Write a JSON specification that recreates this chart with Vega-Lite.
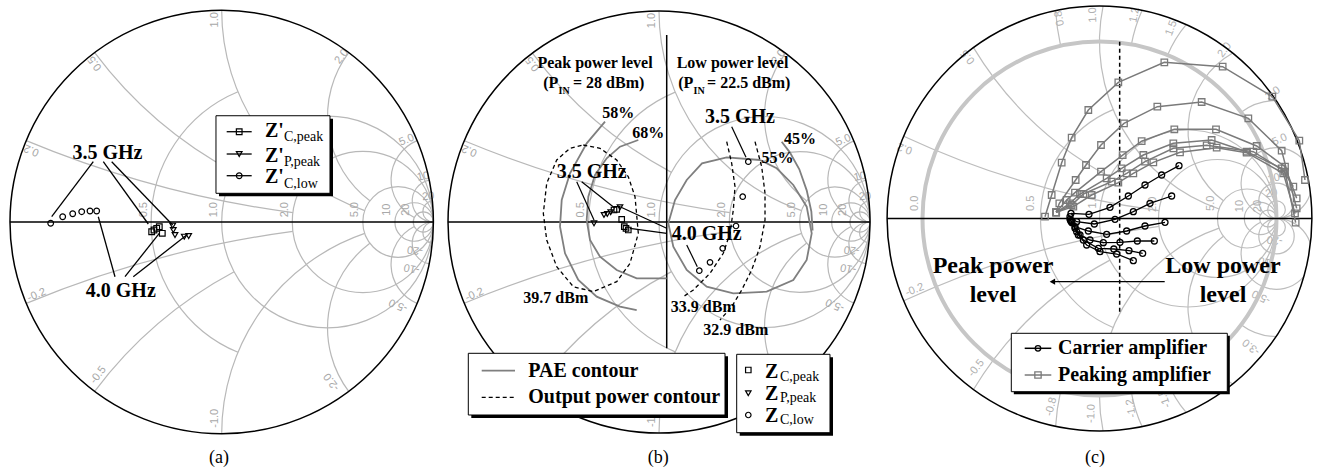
{
"$schema": "https://vega.github.io/schema/vega-lite/v6.json",
"padding": 0,
"spacing": 0,
"background": "#ffffff",
"config": {"view": {"stroke": null}, "text": {"font": "Liberation Serif"}},
"resolve": {"scale": {"x": "independent", "y": "independent", "radius": "independent", "theta": "independent", "shape": "independent"}},
"datasets": {
"gridAB": [
{"x":0.3333,"y":0,"rad":0.6667,"t0":-157.38,"t1":-22.62},
{"x":0.5,"y":0,"rad":0.5,"t0":0,"t1":360},
{"x":0.6667,"y":0,"rad":0.3333,"t0":0,"t1":360},
{"x":0.8333,"y":0,"rad":0.1667,"t0":0,"t1":360},
{"x":0.9091,"y":0,"rad":0.0909,"t0":0,"t1":360},
{"x":0.9524,"y":0,"rad":0.0476,"t0":0,"t1":360},
{"x":1,"y":5,"rad":5,"t0":187.63,"t1":202.62},
{"x":1,"y":2,"rad":2,"t0":208.07,"t1":233.13},
{"x":1,"y":1,"rad":1,"t0":198.92,"t1":270},
{"x":1,"y":0.5,"rad":0.5,"t0":216.87,"t1":306.87},
{"x":1,"y":0.2,"rad":0.2,"t0":206.77,"t1":337.38},
{"x":1,"y":0.1,"rad":0.1,"t0":180,"t1":348.58},
{"x":1,"y":0.05,"rad":0.05,"t0":180,"t1":354.28},
{"x":1,"y":-5,"rad":5,"t0":-22.62,"t1":-7.63},
{"x":1,"y":-2,"rad":2,"t0":-53.13,"t1":-28.07},
{"x":1,"y":-1,"rad":1,"t0":-90,"t1":-18.92},
{"x":1,"y":-0.5,"rad":0.5,"t0":-126.87,"t1":-36.87},
{"x":1,"y":-0.2,"rad":0.2,"t0":-157.38,"t1":-26.77},
{"x":1,"y":-0.1,"rad":0.1,"t0":-168.58,"t1":0},
{"x":1,"y":-0.05,"rad":0.05,"t0":-174.28,"t1":0}
],
"labAB": [
{"x":-0.368,"y":0.058,"t":"0.5","ang":-90},
{"x":-0.035,"y":0.058,"t":"1.0","ang":-90},
{"x":0.298,"y":0.058,"t":"2.0","ang":-90},
{"x":0.632,"y":0.058,"t":"5.0","ang":-90},
{"x":0.783,"y":0.058,"t":"10","ang":-90},
{"x":0.872,"y":0.058,"t":"20","ang":-90},
{"x":-0.898,"y":0.34,"t":"0.2","ang":-157.4},
{"x":-0.598,"y":0.75,"t":"0.5","ang":-126.9},
{"x":-0.032,"y":0.955,"t":"1.0","ang":-90},
{"x":0.567,"y":0.781,"t":"2.0","ang":-53.1},
{"x":0.874,"y":0.387,"t":"5.0","ang":-22.6},
{"x":0.952,"y":0.214,"t":"10","ang":-11.4},
{"x":0.976,"y":0.12,"t":"20","ang":-5.7},
{"x":-0.874,"y":-0.345,"t":"-0.2","ang":-22.6},
{"x":-0.583,"y":-0.723,"t":"-0.5","ang":-53.1},
{"x":-0.032,"y":-0.927,"t":"-1.0","ang":-90},
{"x":0.52,"y":-0.754,"t":"-2.0","ang":-126.9},
{"x":0.834,"y":-0.392,"t":"-5.0","ang":-157.4},
{"x":0.897,"y":-0.219,"t":"-10","ang":-168.6},
{"x":0.913,"y":-0.132,"t":"-20","ang":-174.3}
],
"gridC": [
{"x":0.3333,"y":0,"rad":0.6667,"t0":-157.38,"t1":-22.62},
{"x":0.5,"y":0,"rad":0.5,"t0":0,"t1":360},
{"x":0.6667,"y":0,"rad":0.3333,"t0":0,"t1":360},
{"x":0.8333,"y":0,"rad":0.1667,"t0":0,"t1":360},
{"x":0.9091,"y":0,"rad":0.0909,"t0":0,"t1":360},
{"x":0.9524,"y":0,"rad":0.0476,"t0":0,"t1":360},
{"x":1,"y":5,"rad":5,"t0":187.63,"t1":204.91},
{"x":1,"y":2,"rad":2,"t0":208.07,"t1":238.86},
{"x":1,"y":1.25,"rad":1.25,"t0":257.32,"t1":266.52},
{"x":1,"y":1,"rad":1,"t0":198.92,"t1":281.54},
{"x":1,"y":0.8333,"rad":0.8333,"t0":280.39,"t1":294.26},
{"x":1,"y":0.6667,"rad":0.6667,"t0":292.62,"t1":310.04},
{"x":1,"y":0.5,"rad":0.5,"t0":216.87,"t1":330.36},
{"x":1,"y":0.3333,"rad":0.3333,"t0":323.13,"t1":359.62},
{"x":1,"y":0.2,"rad":0.2,"t0":206.77,"t1":540},
{"x":1,"y":0.1,"rad":0.1,"t0":0,"t1":360},
{"x":1,"y":0.05,"rad":0.05,"t0":0,"t1":360},
{"x":1,"y":-5,"rad":5,"t0":-24.91,"t1":-7.63},
{"x":1,"y":-2,"rad":2,"t0":-58.86,"t1":-28.07},
{"x":1,"y":-1.25,"rad":1.25,"t0":-86.52,"t1":-77.32},
{"x":1,"y":-1,"rad":1,"t0":-101.54,"t1":-18.92},
{"x":1,"y":-0.8333,"rad":0.8333,"t0":-114.26,"t1":-100.39},
{"x":1,"y":-0.6667,"rad":0.6667,"t0":-130.04,"t1":-112.62},
{"x":1,"y":-0.5,"rad":0.5,"t0":-150.36,"t1":-36.87},
{"x":1,"y":-0.3333,"rad":0.3333,"t0":-179.62,"t1":-143.13},
{"x":1,"y":-0.2,"rad":0.2,"t0":-360,"t1":-26.77},
{"x":1,"y":-0.1,"rad":0.1,"t0":0,"t1":360},
{"x":1,"y":-0.05,"rad":0.05,"t0":0,"t1":360}
],
"labC": [
{"x":-1.044,"y":0.086,"t":"0.0","ang":-90},
{"x":-0.385,"y":0.086,"t":"0.5","ang":-90},
{"x":-0.037,"y":0.1,"t":"1.0","ang":-90},
{"x":0.302,"y":0.08,"t":"2.0","ang":-90},
{"x":0.632,"y":0.086,"t":"5.0","ang":-90},
{"x":0.792,"y":0.07,"t":"10","ang":-90},
{"x":0.895,"y":0.07,"t":"20","ang":-90},
{"x":-1.1,"y":0.397,"t":"0.2","ang":-160},
{"x":-0.743,"y":0.914,"t":"0.5","ang":-129},
{"x":-0.225,"y":1.131,"t":"0.8","ang":-101},
{"x":-0.037,"y":1.15,"t":"1.0","ang":-92},
{"x":0.199,"y":1.15,"t":"1.2","ang":-80},
{"x":0.406,"y":1.075,"t":"1.5","ang":-69},
{"x":0.707,"y":0.952,"t":"2.0","ang":-53},
{"x":0.98,"y":0.707,"t":"3.0","ang":-36},
{"x":1.018,"y":0.444,"t":"5.0","ang":-24},
{"x":0.985,"y":0.225,"t":"10","ang":-13},
{"x":0.971,"y":0.142,"t":"20","ang":-8},
{"x":-1.044,"y":-0.404,"t":"-0.2","ang":-21},
{"x":-0.696,"y":-0.846,"t":"-0.5","ang":-51},
{"x":-0.272,"y":-1.063,"t":"-0.8","ang":-76},
{"x":-0.046,"y":-1.101,"t":"-1.0","ang":-88},
{"x":0.18,"y":-1.072,"t":"-1.2","ang":-100},
{"x":0.368,"y":-1.016,"t":"-1.5","ang":-110},
{"x":0.858,"y":-0.724,"t":"-3.0","ang":-140},
{"x":0.914,"y":-0.442,"t":"-5.0","ang":-154},
{"x":0.942,"y":-0.244,"t":"-10","ang":-166},
{"x":0.99,"y":-0.121,"t":"-20","ang":-173}
],
"paeB": [
{"s":"58","i":1,"x":-0.2559,"y":0.4754},{"s":"58","i":2,"x":-0.3427,"y":0.373},{"s":"58","i":3,"x":-0.4218,"y":0.2308},{"s":"58","i":4,"x":-0.4611,"y":0.1043},{"s":"58","i":5,"x":-0.4692,"y":-0.0223},{"s":"58","i":6,"x":-0.4455,"y":-0.1483},{"s":"58","i":7,"x":-0.3825,"y":-0.2749},{"s":"58","i":8,"x":-0.2953,"y":-0.354},{"s":"58","i":9,"x":-0.1848,"y":-0.4014},{"s":"58","i":10,"x":-0.1057,"y":-0.4171},
{"s":"68","i":1,"x":-0.0981,"y":0.3886},{"s":"68","i":2,"x":-0.1848,"y":0.3569},{"s":"68","i":3,"x":-0.2479,"y":0.3019},{"s":"68","i":4,"x":-0.3033,"y":0.2227},{"s":"68","i":5,"x":-0.3351,"y":0.1199},{"s":"68","i":6,"x":-0.3427,"y":0.0095},{"s":"68","i":7,"x":-0.327,"y":-0.0853},{"s":"68","i":8,"x":-0.2796,"y":-0.1645},{"s":"68","i":9,"x":-0.2005,"y":-0.2275},{"s":"68","i":10,"x":-0.1057,"y":-0.2668},{"s":"68","i":11,"x":0.0365,"y":-0.2668},
{"s":"55","i":1,"x":0.4787,"y":0.2938},{"s":"55","i":2,"x":0.3209,"y":0.3066},{"s":"55","i":3,"x":0.2038,"y":0.2782},{"s":"55","i":4,"x":0.1313,"y":0.1991},{"s":"55","i":5,"x":0.0758,"y":0.1043},{"s":"55","i":6,"x":0.0441,"y":-0.0062},{"s":"55","i":7,"x":0.0678,"y":-0.1171},{"s":"55","i":8,"x":0.1313,"y":-0.2275},{"s":"55","i":9,"x":0.2261,"y":-0.3066},{"s":"55","i":10,"x":0.3521,"y":-0.3379},{"s":"55","i":11,"x":0.5104,"y":-0.3303},{"s":"55","i":12,"x":0.6365,"y":-0.2749},{"s":"55","i":13,"x":0.6999,"y":-0.1801},{"s":"55","i":14,"x":0.7237,"y":-0.0536},{"s":"55","i":15,"x":0.6999,"y":0.0725},{"s":"55","i":16,"x":0.6365,"y":0.1754},{"s":"55","i":17,"x":0.5578,"y":0.2545},{"s":"55","i":18,"x":0.4787,"y":0.2938},
{"s":"45","i":1,"x":0.5815,"y":0.3806},{"s":"45","i":2,"x":0.62,"y":0.33},{"s":"45","i":3,"x":0.665,"y":0.25},{"s":"45","i":4,"x":0.7,"y":0.15},{"s":"45","i":5,"x":0.722,"y":0.05},{"s":"45","i":6,"x":0.728,"y":-0.04}
],
"powB": [
{"s":"39.7","i":1,"x":-0.3588,"y":0.3649},{"s":"39.7","i":2,"x":-0.2796,"y":0.3493},{"s":"39.7","i":3,"x":-0.2005,"y":0.2938},{"s":"39.7","i":4,"x":-0.1455,"y":0.2147},{"s":"39.7","i":5,"x":-0.1137,"y":0.1199},{"s":"39.7","i":6,"x":-0.0981,"y":-0.0536},{"s":"39.7","i":7,"x":-0.1374,"y":-0.1957},{"s":"39.7","i":8,"x":-0.2005,"y":-0.2829},{"s":"39.7","i":9,"x":-0.3114,"y":-0.3303},{"s":"39.7","i":10,"x":-0.4062,"y":-0.3066},{"s":"39.7","i":11,"x":-0.4848,"y":-0.2118},{"s":"39.7","i":12,"x":-0.5322,"y":-0.0853},{"s":"39.7","i":13,"x":-0.5483,"y":0.0412},{"s":"39.7","i":14,"x":-0.5322,"y":0.1834},{"s":"39.7","i":15,"x":-0.4848,"y":0.2938},{"s":"39.7","i":16,"x":-0.4218,"y":0.3493},{"s":"39.7","i":17,"x":-0.3588,"y":0.3649},
{"s":"33.9","i":1,"x":0.3209,"y":0.3806},{"s":"33.9","i":2,"x":0.3445,"y":0.2782},{"s":"33.9","i":3,"x":0.3602,"y":0.1673},{"s":"33.9","i":4,"x":0.3521,"y":0.0569},{"s":"33.9","i":5,"x":0.3365,"y":-0.0536},{"s":"33.9","i":6,"x":0.3047,"y":-0.1483},{"s":"33.9","i":7,"x":0.2417,"y":-0.2431},{"s":"33.9","i":8,"x":0.1626,"y":-0.3223},{"s":"33.9","i":9,"x":0.1152,"y":-0.354},
{"s":"32.9","i":1,"x":0.455,"y":0.3806},{"s":"32.9","i":2,"x":0.4867,"y":0.2621},{"s":"32.9","i":3,"x":0.5024,"y":0.136},{"s":"32.9","i":4,"x":0.5024,"y":0.0095},{"s":"32.9","i":5,"x":0.4787,"y":-0.1171},{"s":"32.9","i":6,"x":0.4393,"y":-0.2275},{"s":"32.9","i":7,"x":0.3919,"y":-0.3223},{"s":"32.9","i":8,"x":0.3445,"y":-0.4014},{"s":"32.9","i":9,"x":0.2891,"y":-0.4645}
],
"peakC": [
{"s":"P1","i":1,"x":-0.3079,"y":0.0104},{"s":"P1","i":2,"x":-0.2702,"y":0.1328},{"s":"P1","i":3,"x":-0.2137,"y":0.3154},{"s":"P1","i":4,"x":-0.1573,"y":0.4567},{"s":"P1","i":5,"x":-0.0631,"y":0.613},{"s":"P1","i":6,"x":0.1064,"y":0.7693},{"s":"P1","i":7,"x":0.3663,"y":0.8823},{"s":"P1","i":8,"x":0.6959,"y":0.8578},{"s":"P1","i":9,"x":0.9765,"y":0.6883},{"s":"P1","i":10,"x":1.129,"y":0.4397},{"s":"P1","i":11,"x":1.161,"y":0.2175},
{"s":"P2","i":1,"x":-0.245,"y":0.035},{"s":"P2","i":2,"x":-0.2269,"y":0.0857},{"s":"P2","i":3,"x":-0.1347,"y":0.2175},{"s":"P2","i":4,"x":-0.0763,"y":0.3023},{"s":"P2","i":5,"x":0.0085,"y":0.4153},{"s":"P2","i":6,"x":0.1384,"y":0.5377},{"s":"P2","i":7,"x":0.3267,"y":0.6318},{"s":"P2","i":8,"x":0.5772,"y":0.6582},{"s":"P2","i":9,"x":0.8409,"y":0.5659},{"s":"P2","i":10,"x":1.0292,"y":0.3832},{"s":"P2","i":11,"x":1.1139,"y":0.0574},
{"s":"P3","i":1,"x":-0.245,"y":0.035},{"s":"P3","i":2,"x":-0.1855,"y":0.1045},{"s":"P3","i":3,"x":-0.1384,"y":0.146},{"s":"P3","i":4,"x":0.0085,"y":0.2646},{"s":"P3","i":5,"x":0.1309,"y":0.3578},{"s":"P3","i":6,"x":0.2383,"y":0.4369},{"s":"P3","i":7,"x":0.4228,"y":0.5038},{"s":"P3","i":8,"x":0.6582,"y":0.5038},{"s":"P3","i":9,"x":0.8879,"y":0.4096},{"s":"P3","i":10,"x":1.048,"y":0.2929},{"s":"P3","i":11,"x":1.1139,"y":0.1139},
{"s":"P4","i":1,"x":-0.245,"y":0.035},{"s":"P4","i":2,"x":-0.1667,"y":0.0857},{"s":"P4","i":3,"x":-0.1102,"y":0.1384},{"s":"P4","i":4,"x":0.0405,"y":0.2269},{"s":"P4","i":5,"x":0.1252,"y":0.2834},{"s":"P4","i":6,"x":0.2477,"y":0.3588},{"s":"P4","i":7,"x":0.4171,"y":0.4246},{"s":"P4","i":8,"x":0.6337,"y":0.4435},{"s":"P4","i":9,"x":0.8315,"y":0.3776},{"s":"P4","i":10,"x":1.0292,"y":0.2834},{"s":"P4","i":11,"x":1.0951,"y":0.1798},
{"s":"P5","i":1,"x":-0.245,"y":0.035},{"s":"P5","i":2,"x":-0.1573,"y":0.0763},{"s":"P5","i":3,"x":-0.0913,"y":0.1384},{"s":"P5","i":4,"x":0.0687,"y":0.2081},{"s":"P5","i":5,"x":0.1535,"y":0.2552},{"s":"P5","i":6,"x":0.2571,"y":0.3211},{"s":"P5","i":7,"x":0.4171,"y":0.3964},{"s":"P5","i":8,"x":0.6055,"y":0.4134},{"s":"P5","i":9,"x":0.8691,"y":0.3776},{"s":"P5","i":10,"x":1.048,"y":0.2646},{"s":"P5","i":11,"x":1.1083,"y":-0.0235},
{"s":"P6","i":1,"x":-0.245,"y":0.035},{"s":"P6","i":2,"x":-0.1478,"y":0.0669},{"s":"P6","i":3,"x":-0.0443,"y":0.1328},{"s":"P6","i":4,"x":0.1064,"y":0.2024},{"s":"P6","i":5,"x":0.1911,"y":0.2552},{"s":"P6","i":6,"x":0.3041,"y":0.3173},{"s":"P6","i":7,"x":0.4548,"y":0.3738},{"s":"P6","i":8,"x":0.662,"y":0.4002},{"s":"P6","i":9,"x":0.8315,"y":0.3719},{"s":"P6","i":10,"x":1.0386,"y":0.2552},{"s":"P6","i":11,"x":1.1045,"y":0.0292}
],
"carC": [
{"s":"C1","i":1,"x":-0.161,"y":0.0292},{"s":"C1","i":2,"x":-0.0593,"y":0.0235},{"s":"C1","i":3,"x":0.0593,"y":0.0631},{"s":"C1","i":4,"x":0.1629,"y":0.1271},{"s":"C1","i":5,"x":0.2571,"y":0.1893},{"s":"C1","i":6,"x":0.3512,"y":0.2458},{"s":"C1","i":7,"x":0.4492,"y":0.2985},
{"s":"C2","i":1,"x":-0.1667,"y":0.0104},{"s":"C2","i":2,"x":-0.129,"y":-0.0179},{"s":"C2","i":3,"x":-0.0292,"y":-0.0311},{"s":"C2","i":4,"x":0.0876,"y":-0.0047},{"s":"C2","i":5,"x":0.1911,"y":0.0386},{"s":"C2","i":6,"x":0.2853,"y":0.0857},{"s":"C2","i":7,"x":0.4077,"y":0.1271},
{"s":"C3","i":1,"x":-0.1667,"y":-0.0047},{"s":"C3","i":2,"x":-0.1384,"y":-0.0461},{"s":"C3","i":3,"x":-0.0631,"y":-0.0706},{"s":"C3","i":4,"x":0.0405,"y":-0.0895},{"s":"C3","i":5,"x":0.1535,"y":-0.0706},{"s":"C3","i":6,"x":0.2571,"y":-0.0424},{"s":"C3","i":7,"x":0.3701,"y":-0.0217},
{"s":"C4","i":1,"x":-0.1629,"y":-0.0122},{"s":"C4","i":2,"x":-0.1384,"y":-0.0556},{"s":"C4","i":3,"x":-0.1102,"y":-0.0932},{"s":"C4","i":4,"x":-0.0537,"y":-0.1215},{"s":"C4","i":5,"x":0.0217,"y":-0.1365},{"s":"C4","i":6,"x":0.1158,"y":-0.1347},{"s":"C4","i":7,"x":0.2137,"y":-0.1271},{"s":"C4","i":8,"x":0.3098,"y":-0.1271},
{"s":"C5","i":1,"x":-0.1591,"y":-0.0179},{"s":"C5","i":2,"x":-0.129,"y":-0.0744},{"s":"C5","i":3,"x":-0.0913,"y":-0.1215},{"s":"C5","i":4,"x":-0.0066,"y":-0.1685},{"s":"C5","i":5,"x":0.081,"y":-0.1723},{"s":"C5","i":6,"x":0.1667,"y":-0.1817},{"s":"C5","i":7,"x":0.2439,"y":-0.1968},
{"s":"C6","i":1,"x":-0.1554,"y":-0.0235},{"s":"C6","i":2,"x":-0.1196,"y":-0.0932},{"s":"C6","i":3,"x":-0.0725,"y":-0.1497},{"s":"C6","i":4,"x":0.0028,"y":-0.1874},{"s":"C6","i":5,"x":0.097,"y":-0.2006},{"s":"C6","i":6,"x":0.1911,"y":-0.2382}
]
},
"hconcat": [
{
"width": 439, "height": 472,
"encoding": {
"x": {"field":"x","type":"quantitative","scale":{"domain":[-1.0472,1.0265],"nice":false,"zero":false},"axis":null},
"y": {"field":"y","type":"quantitative","scale":{"domain":[-1.1809,1.0487],"nice":false,"zero":false},"axis":null}
},
"layer": [
{"data":{"name":"gridAB"},"mark":{"type":"arc","filled":false,"stroke":"#b8b8b8","strokeWidth":1.2,"clip":true},
 "encoding":{"theta":{"field":"t0","type":"quantitative","stack":null,"scale":{"domain":[0,360],"range":[0,6.283185307179586]}},"theta2":{"field":"t1"},"radius":{"field":"rad","type":"quantitative","scale":{"type":"linear","domain":[0,1],"range":[0,211.7]}},"radius2":{"field":"rad"}}},
{"data":{"name":"labAB"},"mark":{"type":"text","font":"Liberation Sans","fontSize":11,"color":"#a8a8a8","align":"center","baseline":"middle"},
 "encoding":{"text":{"field":"t"},"angle":{"field":"ang","type":"quantitative","scale":null}}},
{"data":{"values":[{"x":0,"y":0,"rad":1,"t0":0,"t1":360}]},"mark":{"type":"arc","filled":false,"stroke":"#000000","strokeWidth":1.5},
 "encoding":{"theta":{"field":"t0","type":"quantitative","stack":null,"scale":{"domain":[0,360],"range":[0,6.283185307179586]}},"theta2":{"field":"t1"},"radius":{"field":"rad","type":"quantitative","scale":{"type":"linear","domain":[0,1],"range":[0,211.7]}},"radius2":{"field":"rad"}}},
{"data":{"values":[
 {"x":-1,"y":0,"x2":1,"y2":0},
 {"x":-0.6065,"y":0.2848,"x2":-0.803,"y2":0.025},
 {"x":-0.5593,"y":0.2848,"x2":-0.3467,"y2":-0.0094},
 {"x":-0.5196,"y":0.2848,"x2":-0.2315,"y2":-0.0142},
 {"x":-0.504,"y":-0.2584,"x2":-0.5829,"y2":0.025},
 {"x":-0.4568,"y":-0.2584,"x2":-0.2948,"y2":-0.0534},
 {"x":-0.4176,"y":-0.2584,"x2":-0.1653,"y2":-0.0614}]},
 "mark":{"type":"rule","color":"#000000","strokeWidth":1.3},"encoding":{"x2":{"field":"x2"},"y2":{"field":"y2"}}},
{"data":{"values":[
 {"m":"sq","x":-0.3307,"y":-0.0458},{"m":"sq","x":-0.3198,"y":-0.0378},{"m":"sq","x":-0.307,"y":-0.0298},{"m":"sq","x":-0.2948,"y":-0.0222},{"m":"sq","x":-0.2806,"y":-0.0534},
 {"m":"tri","x":-0.2315,"y":-0.0175},{"m":"tri","x":-0.2286,"y":-0.0378},{"m":"tri","x":-0.2206,"y":-0.0614},{"m":"tri","x":-0.1767,"y":-0.0694},{"m":"tri","x":-0.1559,"y":-0.0661},
 {"m":"cir","x":-0.8078,"y":-0.0061},{"m":"cir","x":-0.7511,"y":0.025},{"m":"cir","x":-0.7038,"y":0.0392},{"m":"cir","x":-0.6613,"y":0.0487},{"m":"cir","x":-0.6221,"y":0.052},{"m":"cir","x":-0.5905,"y":0.052}]},
 "mark":{"type":"point","filled":false,"size":32,"stroke":"#000000","strokeWidth":1.2,"opacity":1},
 "encoding":{"shape":{"field":"m","type":"nominal","scale":{"domain":["sq","tri","cir"],"range":["square","triangle-down","circle"]},"legend":null}}},
{"data":{"values":[{"x":-0.5394,"y":0.2962,"t":"3.5 GHz"},{"x":-0.4767,"y":-0.3529,"t":"4.0 GHz"}]},
 "mark":{"type":"text","fontSize":20,"fontWeight":"bold","align":"center","baseline":"alphabetic","color":"#000000"},"encoding":{"text":{"field":"t"}}},
{"data":{"values":[{"x":-0.0128,"y":0.1214,"x2":0.5258,"y2":0.4878}]},"mark":{"type":"rect","fill":"#000000"},"encoding":{"x2":{"field":"x2"},"y2":{"field":"y2"}}},
{"data":{"values":[{"x":-0.027,"y":0.1356,"x2":0.5116,"y2":0.502}]},"mark":{"type":"rect","fill":"#ffffff","stroke":"#000000","strokeWidth":1},"encoding":{"x2":{"field":"x2"},"y2":{"field":"y2"}}},
{"data":{"values":[{"x":0.0236,"y":0.4265,"x2":0.1417,"y2":0.4265},{"x":0.0236,"y":0.3212,"x2":0.1417,"y2":0.3212},{"x":0.0236,"y":0.2187,"x2":0.1417,"y2":0.2187}]},
 "mark":{"type":"rule","color":"#000000","strokeWidth":1.3},"encoding":{"x2":{"field":"x2"},"y2":{"field":"y2"}}},
{"data":{"values":[{"m":"sq","x":0.0827,"y":0.4265},{"m":"tri","x":0.0827,"y":0.3212},{"m":"cir","x":0.0827,"y":0.2187}]},
 "mark":{"type":"point","filled":false,"size":32,"stroke":"#000000","strokeWidth":1.2,"opacity":1},
 "encoding":{"shape":{"field":"m","type":"nominal","scale":{"domain":["sq","tri","cir"],"range":["square","triangle-down","circle"]},"legend":null}}},
{"data":{"values":[{"x":0.2045,"y":0.403,"t":"Z'"},{"x":0.2045,"y":0.2849,"t":"Z'"},{"x":0.2045,"y":0.1828,"t":"Z'"}]},
 "mark":{"type":"text","fontSize":20,"fontWeight":"bold","align":"left","baseline":"alphabetic","color":"#000000"},"encoding":{"text":{"field":"t"}}},
{"data":{"values":[{"x":0.294,"y":0.383,"t":"C,peak"},{"x":0.294,"y":0.264,"t":"P,peak"},{"x":0.294,"y":0.162,"t":"C,low"}]},
 "mark":{"type":"text","fontSize":14,"align":"left","baseline":"alphabetic","color":"#000000"},"encoding":{"text":{"field":"t"}}},
{"data":{"values":[{"x":-0.013,"y":-1.115,"t":"(a)"}]},"mark":{"type":"text","fontSize":18,"align":"center","baseline":"middle","color":"#000000"},"encoding":{"text":{"field":"t"}}}
]
},
{
"width": 439, "height": 472,
"encoding": {
"x": {"field":"x","type":"quantitative","scale":{"domain":[-1.0427,1.0379],"nice":false,"zero":false},"axis":null},
"y": {"field":"y","type":"quantitative","scale":{"domain":[-1.1848,1.0521],"nice":false,"zero":false},"axis":null}
},
"layer": [
{"data":{"name":"gridAB"},"mark":{"type":"arc","filled":false,"stroke":"#b8b8b8","strokeWidth":1.2,"clip":true},
 "encoding":{"theta":{"field":"t0","type":"quantitative","stack":null,"scale":{"domain":[0,360],"range":[0,6.283185307179586]}},"theta2":{"field":"t1"},"radius":{"field":"rad","type":"quantitative","scale":{"type":"linear","domain":[0,1],"range":[0,211]}},"radius2":{"field":"rad"}}},
{"data":{"name":"labAB"},"mark":{"type":"text","font":"Liberation Sans","fontSize":11,"color":"#a8a8a8","align":"center","baseline":"middle"},
 "encoding":{"text":{"field":"t"},"angle":{"field":"ang","type":"quantitative","scale":null}}},
{"data":{"values":[{"x":0,"y":0,"rad":1,"t0":0,"t1":360}]},"mark":{"type":"arc","filled":false,"stroke":"#000000","strokeWidth":1.5},
 "encoding":{"theta":{"field":"t0","type":"quantitative","stack":null,"scale":{"domain":[0,360],"range":[0,6.283185307179586]}},"theta2":{"field":"t1"},"radius":{"field":"rad","type":"quantitative","scale":{"type":"linear","domain":[0,1],"range":[0,211]}},"radius2":{"field":"rad"}}},
{"data":{"values":[{"x":-1,"y":0,"x2":1,"y2":0},{"x":0.0365,"y":0.8863,"x2":0.0365,"y2":-0.5986}]},
 "mark":{"type":"rule","color":"#000000","strokeWidth":1.5},"encoding":{"x2":{"field":"x2"},"y2":{"field":"y2"}}},
{"data":{"name":"paeB"},"mark":{"type":"line","color":"#7f7f7f","strokeWidth":1.8},"encoding":{"detail":{"field":"s"},"order":{"field":"i","type":"quantitative"}}},
{"data":{"name":"powB"},"mark":{"type":"line","color":"#000000","strokeWidth":1.3,"strokeDash":[4,3]},"encoding":{"detail":{"field":"s"},"order":{"field":"i","type":"quantitative"}}},
{"data":{"values":[
 {"x":-0.39,"y":0.191,"x2":-0.3081,"y2":0.0095},
 {"x":-0.3664,"y":0.191,"x2":-0.2085,"y2":0.0649},
 {"x":0.0365,"y":-0.0299,"x2":-0.1848,"y2":0.0725},
 {"x":0.0365,"y":-0.0536,"x2":-0.1374,"y2":-0.0299},
 {"x":0.3445,"y":0.4517,"x2":0.4123,"y2":0.3066},
 {"x":0.1313,"y":-0.109,"x2":0.1815,"y2":-0.2118}]},
 "mark":{"type":"rule","color":"#000000","strokeWidth":1.2},"encoding":{"x2":{"field":"x2"},"y2":{"field":"y2"}}},
{"data":{"values":[
 {"m":"sq","x":-0.2133,"y":0.0569},{"m":"sq","x":-0.2005,"y":0.0602},{"m":"sq","x":-0.1768,"y":0.0128},{"m":"sq","x":-0.1645,"y":-0.0223},{"m":"sq","x":-0.1564,"y":-0.0299},{"m":"sq","x":-0.1455,"y":-0.0379},
 {"m":"tri","x":-0.3081,"y":-0.0062},{"m":"tri","x":-0.2607,"y":0.0332},{"m":"tri","x":-0.245,"y":0.0379},{"m":"tri","x":-0.2289,"y":0.046},{"m":"tri","x":-0.1848,"y":0.0697},
 {"m":"cir","x":0.4232,"y":0.2858},{"m":"cir","x":0.3967,"y":0.1199},{"m":"cir","x":0.3649,"y":-0.019},{"m":"cir","x":0.3019,"y":-0.1246},{"m":"cir","x":0.2417,"y":-0.191},{"m":"cir","x":0.191,"y":-0.2308}]},
 "mark":{"type":"point","filled":false,"size":30,"stroke":"#000000","strokeWidth":1.2,"opacity":1},
 "encoding":{"shape":{"field":"m","type":"nominal","scale":{"domain":["sq","tri","cir"],"range":["square","triangle-down","circle"]},"legend":null}}},
{"data":{"values":[{"x":-0.319,"y":0.2071,"t":"3.5 GHz"},{"x":0.3839,"y":0.4678,"t":"3.5 GHz"},{"x":0.2261,"y":-0.0853,"t":"4.0 GHz"}]},
 "mark":{"type":"text","fontSize":20,"fontWeight":"bold","align":"center","baseline":"alphabetic","color":"#000000"},"encoding":{"text":{"field":"t"}}},
{"data":{"values":[{"x":-0.1929,"y":0.4915,"t":"58%"},{"x":-0.0507,"y":0.3967,"t":"68%"},{"x":0.6682,"y":0.3697,"t":"45%"},{"x":0.5616,"y":0.2782,"t":"55%"},{"x":-0.3033,"y":0.7283,"t":"Peak power level"},{"x":0.3483,"y":0.7283,"t":"Low power level"},{"x":-0.4891,"y":-0.3853,"t":"39.7 dBm"},{"x":0.21,"y":-0.4251,"t":"33.9 dBm"},{"x":0.364,"y":-0.5355,"t":"32.9 dBm"}]},
 "mark":{"type":"text","fontSize":16,"fontWeight":"bold","align":"center","baseline":"alphabetic","color":"#000000"},"encoding":{"text":{"field":"t"}}},
{"data":{"values":[{"x":-0.4773,"y":0.6336,"t":"(P"},{"x":0.1626,"y":0.6336,"t":"(P"}]},
 "mark":{"type":"text","fontSize":16,"fontWeight":"bold","align":"right","baseline":"alphabetic","color":"#000000"},"encoding":{"text":{"field":"t"}}},
{"data":{"values":[{"x":-0.4076,"y":0.6336,"t":"= 28 dBm)"},{"x":0.2275,"y":0.6336,"t":"= 22.5 dBm)"}]},
 "mark":{"type":"text","fontSize":16,"fontWeight":"bold","align":"left","baseline":"alphabetic","color":"#000000"},"encoding":{"text":{"field":"t"}}},
{"data":{"values":[{"x":-0.476,"y":0.6079,"t":"IN"},{"x":0.1635,"y":0.6079,"t":"IN"}]},
 "mark":{"type":"text","fontSize":10,"fontWeight":"bold","align":"left","baseline":"alphabetic","color":"#000000"},"encoding":{"text":{"field":"t"}}},
{"data":{"values":[{"x":-0.8896,"y":-0.9289,"x2":0.327,"y2":-0.6365},{"x":0.3824,"y":-1.0128,"x2":0.8246,"y2":-0.6412}]},"mark":{"type":"rect","fill":"#000000"},"encoding":{"x2":{"field":"x2"},"y2":{"field":"y2"}}},
{"data":{"values":[{"x":-0.9038,"y":-0.9147,"x2":0.3128,"y2":-0.6223},{"x":0.3682,"y":-0.9986,"x2":0.8104,"y2":-0.627}]},"mark":{"type":"rect","fill":"#ffffff","stroke":"#000000","strokeWidth":1},"encoding":{"x2":{"field":"x2"},"y2":{"field":"y2"}}},
{"data":{"values":[{"x":-0.8403,"y":-0.7047,"x2":-0.6825,"y2":-0.7047}]},"mark":{"type":"rule","color":"#7f7f7f","strokeWidth":1.8},"encoding":{"x2":{"field":"x2"},"y2":{"field":"y2"}}},
{"data":{"values":[{"x":-0.8403,"y":-0.8308,"x2":-0.6825,"y2":-0.8308}]},"mark":{"type":"rule","color":"#000000","strokeWidth":1.3,"strokeDash":[4,3]},"encoding":{"x2":{"field":"x2"},"y2":{"field":"y2"}}},
{"data":{"values":[{"m":"sq","x":0.4232,"y":-0.7014},{"m":"tri","x":0.4232,"y":-0.8118},{"m":"cir","x":0.4232,"y":-0.9147}]},
 "mark":{"type":"point","filled":false,"size":30,"stroke":"#000000","strokeWidth":1.2,"opacity":1},
 "encoding":{"shape":{"field":"m","type":"nominal","scale":{"domain":["sq","tri","cir"],"range":["square","triangle-down","circle"]},"legend":null}}},
{"data":{"values":[{"x":-0.6194,"y":-0.7332,"t":"PAE contour"},{"x":-0.6194,"y":-0.8592,"t":"Output power contour"},{"x":0.5024,"y":-0.7408,"t":"Z"},{"x":0.5024,"y":-0.8436,"t":"Z"},{"x":0.5024,"y":-0.9464,"t":"Z"}]},
 "mark":{"type":"text","fontSize":20,"fontWeight":"bold","align":"left","baseline":"alphabetic","color":"#000000"},"encoding":{"text":{"field":"t"}}},
{"data":{"values":[{"x":0.5735,"y":-0.752,"t":"C,peak"},{"x":0.5735,"y":-0.855,"t":"P,peak"},{"x":0.5735,"y":-0.957,"t":"C,low"}]},
 "mark":{"type":"text","fontSize":14,"align":"left","baseline":"alphabetic","color":"#000000"},"encoding":{"text":{"field":"t"}}},
{"data":{"values":[{"x":-0.003,"y":-1.1185,"t":"(b)"}]},"mark":{"type":"text","fontSize":18,"align":"center","baseline":"middle","color":"#000000"},"encoding":{"text":{"field":"t"}}}
]
},
{
"width": 440, "height": 472,
"encoding": {
"x": {"field":"x","type":"quantitative","scale":{"domain":[-1.2514,1.2345],"nice":false,"zero":false},"axis":null},
"y": {"field":"y","type":"quantitative","scale":{"domain":[-1.4322,1.2345],"nice":false,"zero":false},"axis":null}
},
"layer": [
{"data":{"name":"gridC"},"mark":{"type":"arc","filled":false,"stroke":"#bdbdbd","strokeWidth":1.2,"clip":true},
 "encoding":{"theta":{"field":"t0","type":"quantitative","stack":null,"scale":{"domain":[0,360],"range":[0,6.283185307179586]}},"theta2":{"field":"t1"},"radius":{"field":"rad","type":"quantitative","scale":{"type":"linear","domain":[0,1],"range":[0,177]}},"radius2":{"field":"rad"}}},
{"data":{"values":[{"x":0,"y":0,"rad":2.5,"rad2":1.2,"t0":0,"t1":360}]},"mark":{"type":"arc","fill":"#ffffff","stroke":null,"clip":true},
 "encoding":{"theta":{"field":"t0","type":"quantitative","stack":null,"scale":{"domain":[0,360],"range":[0,6.283185307179586]}},"theta2":{"field":"t1"},"radius":{"field":"rad","type":"quantitative","scale":{"type":"linear","domain":[0,1],"range":[0,177]}},"radius2":{"field":"rad2"}}},
{"data":{"name":"labC"},"mark":{"type":"text","font":"Liberation Sans","fontSize":11,"color":"#b0b0b0","align":"center","baseline":"middle"},
 "encoding":{"text":{"field":"t"},"angle":{"field":"ang","type":"quantitative","scale":null}}},
{"data":{"values":[{"x":0,"y":0,"rad":1,"t0":0,"t1":360}]},"mark":{"type":"arc","filled":false,"stroke":"#c6c6c6","strokeWidth":4},
 "encoding":{"theta":{"field":"t0","type":"quantitative","stack":null,"scale":{"domain":[0,360],"range":[0,6.283185307179586]}},"theta2":{"field":"t1"},"radius":{"field":"rad","type":"quantitative","scale":{"type":"linear","domain":[0,1],"range":[0,177]}},"radius2":{"field":"rad"}}},
{"data":{"values":[{"x":0,"y":0,"rad":1.2,"t0":0,"t1":360}]},"mark":{"type":"arc","filled":false,"stroke":"#000000","strokeWidth":1.5},
 "encoding":{"theta":{"field":"t0","type":"quantitative","stack":null,"scale":{"domain":[0,360],"range":[0,6.283185307179586]}},"theta2":{"field":"t1"},"radius":{"field":"rad","type":"quantitative","scale":{"type":"linear","domain":[0,1],"range":[0,177]}},"radius2":{"field":"rad"}}},
{"data":{"values":[{"x":-1.2,"y":0,"x2":1.2,"y2":0}]},"mark":{"type":"rule","color":"#000000","strokeWidth":1.5},"encoding":{"x2":{"field":"x2"},"y2":{"field":"y2"}}},
{"data":{"values":[{"x":0.114,"y":0.999,"x2":0.114,"y2":-0.527}]},"mark":{"type":"rule","color":"#000000","strokeWidth":1.5,"strokeDash":[4,3]},"encoding":{"x2":{"field":"x2"},"y2":{"field":"y2"}}},
{"data":{"name":"peakC"},"mark":{"type":"line","color":"#7a7a7a","strokeWidth":1.5},"encoding":{"detail":{"field":"s"},"order":{"field":"i","type":"quantitative"}}},
{"data":{"name":"peakC"},"mark":{"type":"point","shape":"square","filled":false,"size":42,"stroke":"#7a7a7a","strokeWidth":1.3,"opacity":1}},
{"data":{"name":"carC"},"mark":{"type":"line","color":"#000000","strokeWidth":1.3},"encoding":{"detail":{"field":"s"},"order":{"field":"i","type":"quantitative"}}},
{"data":{"name":"carC"},"mark":{"type":"point","shape":"circle","filled":false,"size":36,"stroke":"#000000","strokeWidth":1.3,"opacity":1}},
{"data":{"values":[{"x":-0.6017,"y":-0.3096,"t":"Peak power"},{"x":-0.6017,"y":-0.4701,"t":"level"},{"x":0.6977,"y":-0.3096,"t":"Low power"},{"x":0.6977,"y":-0.4701,"t":"level"}]},
 "mark":{"type":"text","fontSize":24,"fontWeight":"bold","align":"center","baseline":"alphabetic","color":"#000000"},"encoding":{"text":{"field":"t"}}},
{"data":{"values":[{"x":0.3684,"y":-0.3571,"x2":-0.26,"y2":-0.3571}]},"mark":{"type":"rule","color":"#000000","strokeWidth":1.3},"encoding":{"x2":{"field":"x2"},"y2":{"field":"y2"}}},
{"data":{"values":[{"x":-0.266,"y":-0.3571}]},"mark":{"type":"point","shape":"triangle-left","filled":true,"size":40,"color":"#000000","opacity":1}},
{"data":{"values":[{"x":-0.4841,"y":-0.9927,"x2":0.7362,"y2":-0.6628}]},"mark":{"type":"rect","fill":"#000000"},"encoding":{"x2":{"field":"x2"},"y2":{"field":"y2"}}},
{"data":{"values":[{"x":-0.4983,"y":-0.9785,"x2":0.722,"y2":-0.6486}]},"mark":{"type":"rect","fill":"#ffffff","stroke":"#000000","strokeWidth":1},"encoding":{"x2":{"field":"x2"},"y2":{"field":"y2"}}},
{"data":{"values":[{"x":-0.4226,"y":-0.7333,"x2":-0.2723,"y2":-0.7333}]},"mark":{"type":"rule","color":"#000000","strokeWidth":1.5},"encoding":{"x2":{"field":"x2"},"y2":{"field":"y2"}}},
{"data":{"values":[{"x":-0.4226,"y":-0.8842,"x2":-0.2723,"y2":-0.8842}]},"mark":{"type":"rule","color":"#7a7a7a","strokeWidth":1.5},"encoding":{"x2":{"field":"x2"},"y2":{"field":"y2"}}},
{"data":{"values":[{"x":-0.3475,"y":-0.7333}]},"mark":{"type":"point","shape":"circle","filled":false,"size":30,"stroke":"#000000","strokeWidth":1.3,"opacity":1}},
{"data":{"values":[{"x":-0.3475,"y":-0.8842}]},"mark":{"type":"point","shape":"square","filled":false,"size":40,"stroke":"#7a7a7a","strokeWidth":1.3,"opacity":1}},
{"data":{"values":[{"x":-0.2345,"y":-0.7655,"t":"Carrier amplifier"},{"x":-0.2345,"y":-0.9164,"t":"Peaking amplifier"}]},
 "mark":{"type":"text","fontSize":20,"fontWeight":"bold","align":"left","baseline":"alphabetic","color":"#000000"},"encoding":{"text":{"field":"t"}}},
{"data":{"values":[{"x":-0.0254,"y":-1.3531,"t":"(c)"}]},"mark":{"type":"text","fontSize":18,"align":"center","baseline":"middle","color":"#000000"},"encoding":{"text":{"field":"t"}}}
]
}
]
}
